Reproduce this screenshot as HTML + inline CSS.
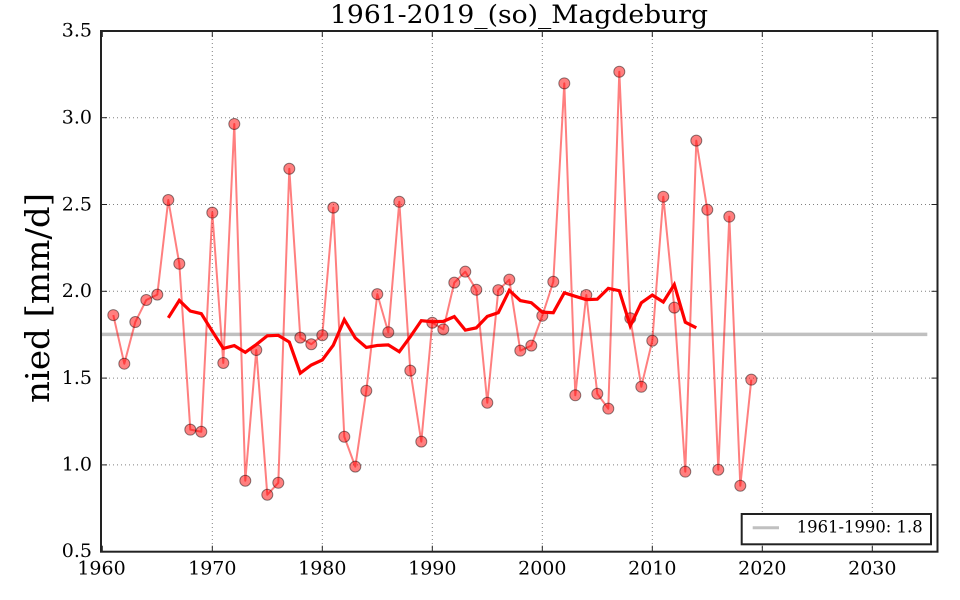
<!DOCTYPE html>
<html>
<head>
<meta charset="utf-8">
<style>
  html, body { margin: 0; padding: 0; background: #ffffff; }
  body { width: 960px; height: 600px; overflow: hidden; }
  svg { display: block; }
  text { font-family: "DejaVu Serif", "Liberation Serif", serif; fill: #000; }
</style>
</head>
<body>
<svg id="chart" width="960" height="600" viewBox="0 0 960 600" xmlns="http://www.w3.org/2000/svg">
  <rect x="0" y="0" width="960" height="600" fill="#ffffff"/>
  <g id="grid" stroke="#808080" stroke-width="1" stroke-dasharray="1,3" fill="none"></g>
  <g id="series"></g>
  <g id="ticks" stroke="#222" stroke-width="1" fill="none"></g>
  <rect x="101" y="31" width="836.5" height="520.7" fill="none" stroke="#222" stroke-width="2"/>

  <!-- Title -->
  <text x="519" y="23" font-size="25" text-anchor="middle" textLength="378" lengthAdjust="spacingAndGlyphs">1961-2019_(so)_Magdeburg</text>

  <!-- Y label -->
  <text transform="translate(49,298) rotate(-90)" font-size="33" text-anchor="middle" textLength="210" lengthAdjust="spacingAndGlyphs">nied [mm/d]</text>

  <!-- Y tick labels -->
  <g font-size="19" text-anchor="end">
    <text x="92" y="36.5">3.5</text>
    <text x="92" y="123.5">3.0</text>
    <text x="92" y="210.5">2.5</text>
    <text x="92" y="297">2.0</text>
    <text x="92" y="384">1.5</text>
    <text x="92" y="470.5">1.0</text>
    <text x="92" y="557">0.5</text>
  </g>

  <!-- X tick labels -->
  <g font-size="19" text-anchor="middle">
    <text x="101.5" y="574.5">1960</text>
    <text x="212.3" y="574.5">1970</text>
    <text x="322.3" y="574.5">1980</text>
    <text x="432.3" y="574.5">1990</text>
    <text x="542.3" y="574.5">2000</text>
    <text x="652.3" y="574.5">2010</text>
    <text x="762.3" y="574.5">2020</text>
    <text x="872.3" y="574.5">2030</text>
  </g>

  <!-- Legend -->
  <rect x="741.7" y="514" width="189.3" height="30.3" fill="#ffffff" stroke="#222" stroke-width="2"/>
  <line x1="752.7" y1="527.7" x2="779" y2="527.7" stroke="#c0c0c0" stroke-width="3"/>
  <text x="796.7" y="532.7" font-size="17" textLength="126" lengthAdjust="spacingAndGlyphs">1961-1990: 1.8</text>
</svg>
<script>
(function(){
  var NS = "http://www.w3.org/2000/svg";
  var vals = [1.863,1.583,1.823,1.950,1.981,2.526,2.159,1.203,1.191,2.453,
              1.587,2.964,0.909,1.662,0.828,0.897,2.706,1.733,1.695,1.747,
              2.482,1.162,0.990,1.427,1.984,1.764,2.516,1.543,1.134,1.819,
              1.781,2.050,2.113,2.009,1.358,2.007,2.067,1.658,1.687,1.859,
              2.055,3.198,1.401,1.979,1.410,1.324,3.265,1.845,1.450,1.715,
              2.545,1.906,0.961,2.868,2.470,0.972,2.430,0.880,1.491];
  function X(yr){ return 102.3 + 11.0*(yr-1960); }
  function Y(v){ return 551.7 - (v-0.5)*173.6; }
  function el(name, attrs, parent){
    var e = document.createElementNS(NS, name);
    for (var k in attrs) e.setAttribute(k, attrs[k]);
    parent.appendChild(e); return e;
  }
  var grid = document.getElementById("grid");
  for (var yr=1970; yr<=2030; yr+=10){
    el("line",{x1:X(yr),y1:31,x2:X(yr),y2:551.7},grid);
  }
  [1.0,1.5,2.0,2.5,3.0].forEach(function(v){
    el("line",{x1:101,y1:Y(v),x2:937.5,y2:Y(v)},grid);
  });
  var ticks = document.getElementById("ticks");
  for (var yr2=1960; yr2<=2030; yr2+=10){
    el("line",{x1:X(yr2),y1:551.7,x2:X(yr2),y2:545.7},ticks);
    el("line",{x1:X(yr2),y1:31,x2:X(yr2),y2:37},ticks);
  }
  [0.5,1.0,1.5,2.0,2.5,3.0,3.5].forEach(function(v){
    el("line",{x1:101,y1:Y(v),x2:107,y2:Y(v)},ticks);
    el("line",{x1:937.5,y1:Y(v),x2:931.5,y2:Y(v)},ticks);
  });
  var s = document.getElementById("series");
  el("line",{x1:101,y1:Y(1.752),x2:X(2035),y2:Y(1.752),stroke:"#c0c0c0","stroke-width":3.5},s);
  var pts = vals.map(function(v,i){ return X(1961+i).toFixed(2)+","+Y(v).toFixed(2); }).join(" ");
  el("polyline",{points:pts,fill:"none",stroke:"#ff0000","stroke-opacity":0.5,"stroke-width":2,"stroke-linejoin":"round"},s);
  vals.forEach(function(v,i){
    el("circle",{cx:X(1961+i),cy:Y(v),r:5.5,fill:"#ff0000","fill-opacity":0.5,stroke:"#000","stroke-opacity":0.45,"stroke-width":1},s);
  });
  var ma = [];
  for (var i=5; i<vals.length-5; i++){
    var sum=0; for (var j=i-5;j<=i+5;j++) sum+=vals[j];
    ma.push(X(1961+i).toFixed(2)+","+Y(sum/11).toFixed(2));
  }
  el("polyline",{points:ma.join(" "),fill:"none",stroke:"#ff0000","stroke-width":3.2,"stroke-linejoin":"miter"},s);
})();
</script>
</body>
</html>
